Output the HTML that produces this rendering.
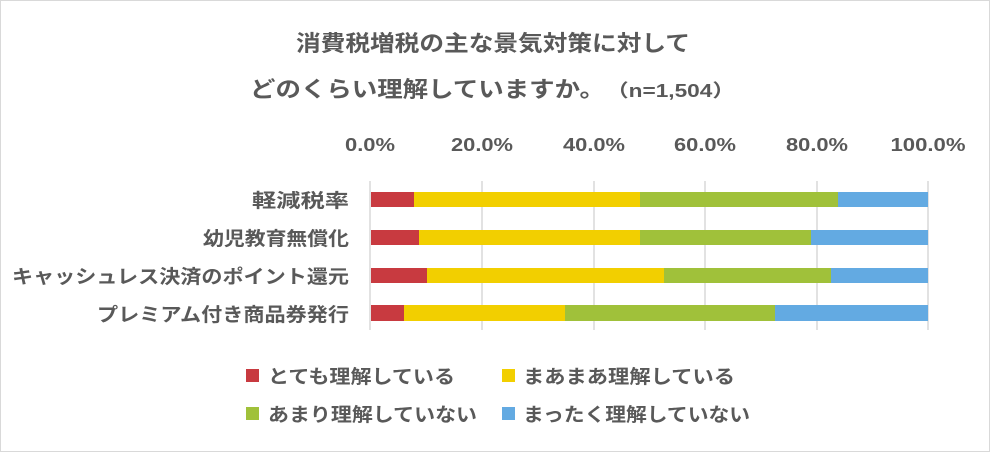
<!DOCTYPE html>
<html><head><meta charset="utf-8"><style>
body{margin:0;background:#fff;}
</style></head><body>
<svg width="990" height="452" xmlns="http://www.w3.org/2000/svg" style="display:block;font-family:'Liberation Sans','Noto Sans CJK JP',sans-serif;font-weight:bold;fill:#595959">
<rect x="0.5" y="0.5" width="989" height="451" fill="#fff" stroke="#d9d9d9"/>
<text x="296" y="51" font-size="22" textLength="394" lengthAdjust="spacingAndGlyphs">消費税増税の主な景気対策に対して</text>
<text x="250" y="97" font-size="22" textLength="355" lengthAdjust="spacingAndGlyphs">どのくらい理解していますか。</text>
<text x="606" y="97" font-size="18" textLength="129" lengthAdjust="spacingAndGlyphs">（n=1,504）</text>
<g font-size="18" text-anchor="middle">
<text x="370" y="151" textLength="50" lengthAdjust="spacingAndGlyphs">0.0%</text><text x="482" y="151" textLength="62" lengthAdjust="spacingAndGlyphs">20.0%</text><text x="594" y="151" textLength="62" lengthAdjust="spacingAndGlyphs">40.0%</text><text x="705" y="151" textLength="62" lengthAdjust="spacingAndGlyphs">60.0%</text><text x="817" y="151" textLength="62" lengthAdjust="spacingAndGlyphs">80.0%</text><text x="928" y="151" textLength="75" lengthAdjust="spacingAndGlyphs">100.0%</text>
</g>
<g stroke="#d9d9d9" stroke-width="1.5">
<line x1="370" y1="181" x2="370" y2="330"/><line x1="482" y1="181" x2="482" y2="330"/><line x1="594" y1="181" x2="594" y2="330"/><line x1="705" y1="181" x2="705" y2="330"/><line x1="817" y1="181" x2="817" y2="330"/><line x1="928" y1="181" x2="928" y2="330"/>
</g>
<g>
<rect x="371" y="192" width="43" height="15" fill="#C83A40"/><rect x="414" y="192" width="226" height="15" fill="#F2CF00"/><rect x="640" y="192" width="198" height="15" fill="#A0C13A"/><rect x="838" y="192" width="90" height="15" fill="#63AAE2"/>
<rect x="371" y="230" width="48" height="15" fill="#C83A40"/><rect x="419" y="230" width="221" height="15" fill="#F2CF00"/><rect x="640" y="230" width="171" height="15" fill="#A0C13A"/><rect x="811" y="230" width="117" height="15" fill="#63AAE2"/>
<rect x="371" y="268" width="56" height="15" fill="#C83A40"/><rect x="427" y="268" width="237" height="15" fill="#F2CF00"/><rect x="664" y="268" width="167" height="15" fill="#A0C13A"/><rect x="831" y="268" width="97" height="15" fill="#63AAE2"/>
<rect x="371" y="305" width="33" height="16" fill="#C83A40"/><rect x="404" y="305" width="161" height="16" fill="#F2CF00"/><rect x="565" y="305" width="210" height="16" fill="#A0C13A"/><rect x="775" y="305" width="153" height="16" fill="#63AAE2"/>
</g>
<g font-size="19">
<text x="252" y="207" textLength="97" lengthAdjust="spacingAndGlyphs">軽減税率</text>
<text x="203" y="245" textLength="146" lengthAdjust="spacingAndGlyphs">幼児教育無償化</text>
<text x="12" y="283" textLength="337" lengthAdjust="spacingAndGlyphs">キャッシュレス決済のポイント還元</text>
<text x="97" y="321" textLength="252" lengthAdjust="spacingAndGlyphs">プレミアム付き商品券発行</text>
</g>
<g font-size="19">
<rect x="246" y="369" width="13" height="13" fill="#C83A40"/><text x="268" y="383" textLength="187" lengthAdjust="spacingAndGlyphs">とても理解している</text>
<rect x="502" y="369" width="13" height="13" fill="#F2CF00"/><text x="523" y="383" textLength="212" lengthAdjust="spacingAndGlyphs">まあまあ理解している</text>
<rect x="246" y="407" width="13" height="13" fill="#A0C13A"/><text x="268" y="421" textLength="209" lengthAdjust="spacingAndGlyphs">あまり理解していない</text>
<rect x="502" y="407" width="13" height="13" fill="#63AAE2"/><text x="523" y="421" textLength="227" lengthAdjust="spacingAndGlyphs">まったく理解していない</text>
</g>
</svg>
</body></html>
